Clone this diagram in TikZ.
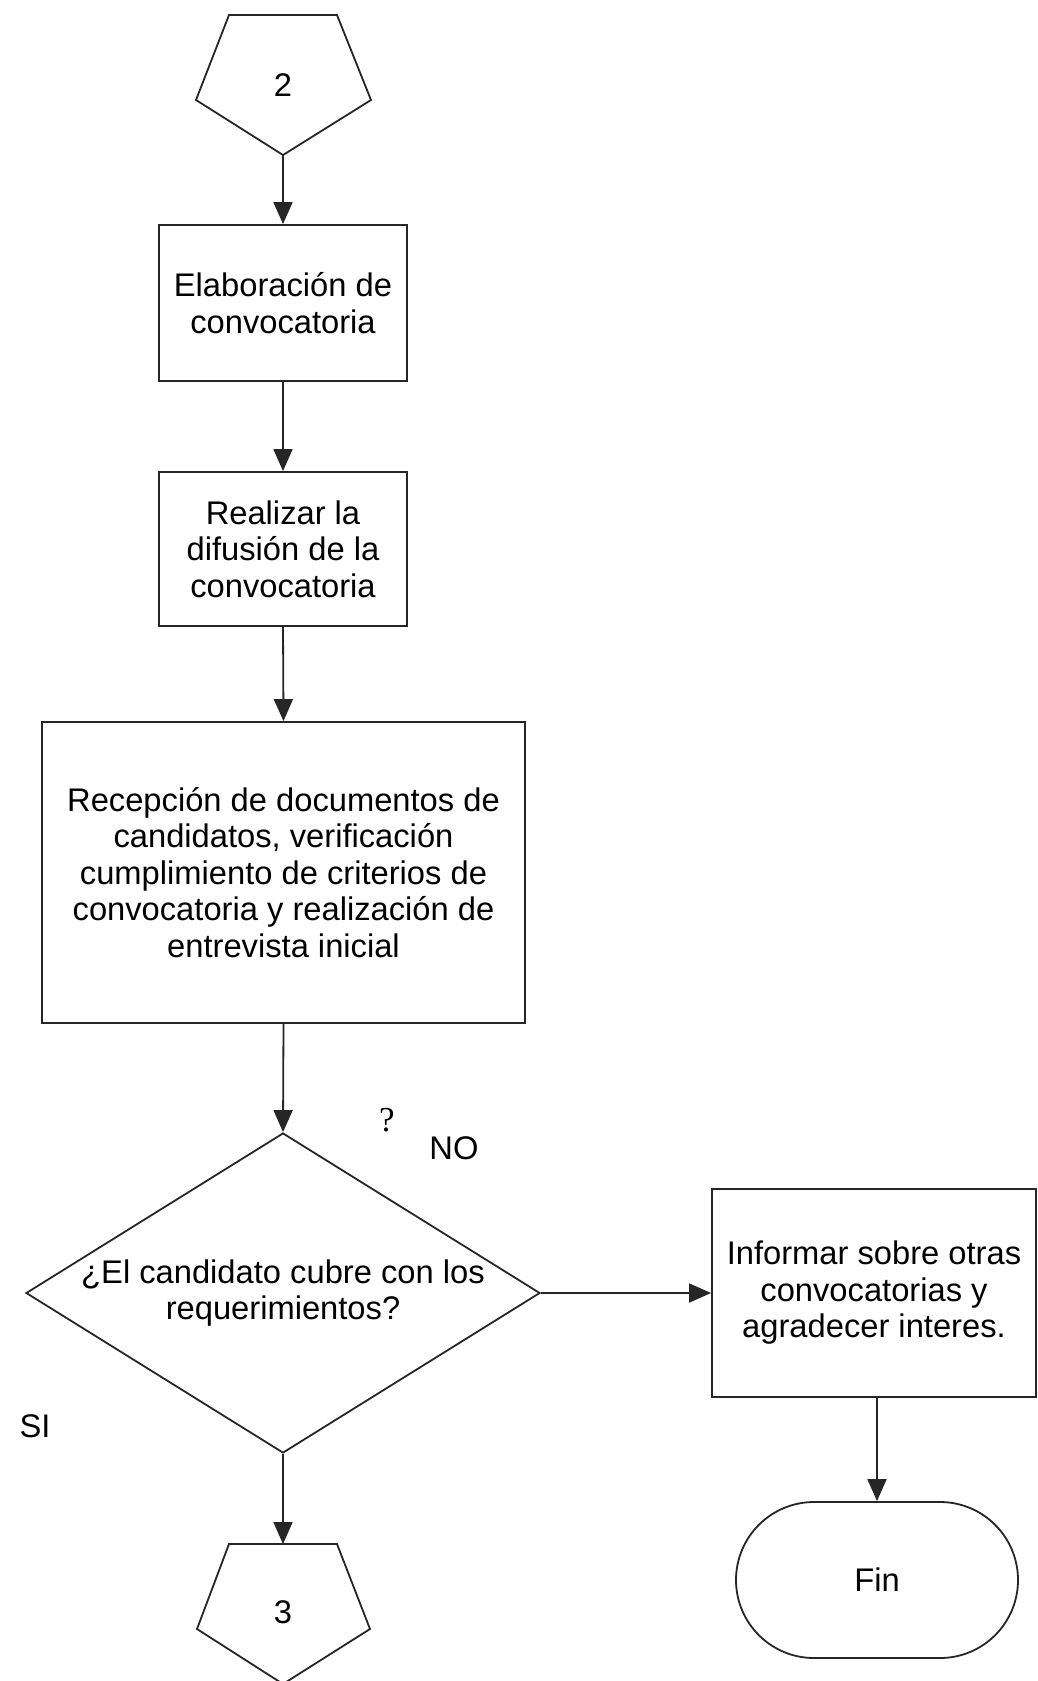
\documentclass[tikz,border=0pt]{standalone}
\usepackage{fontspec}
\setmainfont{Liberation Sans}
\newfontfamily\serifq{Liberation Serif}
\usetikzlibrary{shapes.geometric,arrows.meta}
\begin{document}
\begin{tikzpicture}[x=1pt,y=-1pt,
  every node/.style={font=\fontsize{32.7}{36.5}\selectfont},
  line/.style={line width=1.8pt,draw=black!85},
  proc/.style={line, rectangle, align=center, inner sep=0pt},
  flow/.style={line, -{Triangle[length=22pt,width=19pt]}},
  decis/.style={line, diamond, align=center, inner sep=0pt, shape aspect=1.6,
                minimum width=514pt, minimum height=320pt},
  term/.style={line, rectangle, rounded corners=78pt, minimum width=282pt,
               minimum height=156pt, inner sep=0pt},
  lbl/.style={inner sep=0pt}]
\useasboundingbox (0,0) rectangle (1037,1681);
% off-page connector 2
\draw[line, line join=miter] (229,15) -- (337,15) -- (371,100) -- (283,155) -- (196,100) -- cycle;
\node[lbl] (p2) at (283,85) {2};
\coordinate (p2tip) at (283,155);
% boxes
\node[proc, minimum width=248pt, minimum height=156pt] (b1) at (283,303)
  {Elaboración de\\convocatoria};
\node[proc, minimum width=248pt, minimum height=154pt] (b2) at (283,549)
  {Realizar la\\difusión de la\\convocatoria};
\node[proc, minimum width=483pt, minimum height=301pt] (b3) at (283.5,872.5)
  {Recepción de documentos de\\candidatos, verificación\\cumplimiento de criterios de\\convocatoria y realización de\\entrevista inicial};
\node[decis] (d) at (283,1293) {¿El candidato cubre con los\\requerimientos?};
\node[proc, minimum width=324pt, minimum height=208pt] (b4) at (874,1293)
  {Informar sobre otras\\convocatorias y\\agradecer interes.};
\node[term] (fin) at (877,1580) {Fin};
% off-page connector 3
\draw[line, line join=miter] (229,1544) -- (337,1544) -- (370,1629) -- (283,1684) -- (197,1629) -- cycle;
\node[lbl] (p3) at (283,1612) {3};
\coordinate (p3top) at (283,1544);
% labels
\node[lbl, font=\serifq\fontsize{35}{38}\selectfont] (q) at (387,1120) {?};
\node[lbl] (no) at (454,1148) {NO};
\node[lbl] (si) at (35,1426) {SI};
% connectors
\draw[flow] (p2tip) -- (b1.north);
\draw[flow] (b1.south) -- (b2.north);
\draw[flow] (b2.south) -- (b3.north);
\draw[flow] (b3.south) -- (d.north);
\draw[flow] (d.east) -- (b4.west);
\draw[flow] (b4.south -| fin.north) -- (fin.north);
\draw[flow] (d.south) -- (p3top);
\end{tikzpicture}
\end{document}
